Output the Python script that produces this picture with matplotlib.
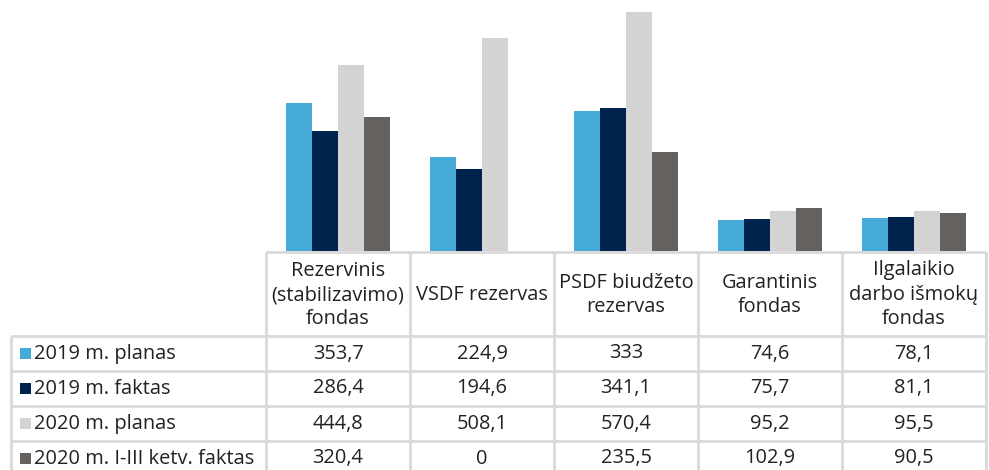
import matplotlib
matplotlib.use("Agg")
import matplotlib.pyplot as plt
import numpy as np

categories = ["Rezervinis\n(stabilizavimo)\nfondas", "VSDF rezervas",
              "PSDF biudžeto\nrezervas", "Garantinis\nfondas",
              "Ilgalaikio\ndarbo išmokų\nfondas"]
series_names = ["2019 m. planas", "2019 m. faktas", "2020 m. planas",
                "2020 m. I-III ketv. faktas"]
plan_2019 = [353.7, 224.9, 333, 74.6, 78.1]
fact_2019 = [286.4, 194.6, 341.1, 75.7, 81.1]
plan_2020 = [444.8, 508.1, 570.4, 95.2, 95.5]
fact_2020 = [320.4, 0, 235.5, 102.9, 90.5]
series = [plan_2019, fact_2019, plan_2020, fact_2020]
colors = ["#47ABDA", "#00234E", "#D3D3D3", "#65615F"]

FONT = ["Open Sans", "DejaVu Sans"]
FS = 14.4
TXT = "#222222"
GRID = "#D9D9D9"

W, H = 989, 470
fig = plt.figure(figsize=(W / 100, H / 100), dpi=100)

# table geometry in pixels
col_edges = [266, 410, 554, 698, 842, 986]
label_left = 11
header_top, header_bot = 252, 336
row_h = 35

# bar axes
x0, x1 = col_edges[0], col_edges[-1]
base = 251
ax = fig.add_axes([x0 / W, (H - base) / H, (x1 - x0) / W, base / H])
ax.set_xlim(-0.5, len(categories) - 0.5)
ax.set_ylim(0, 599)
ax.axis("off")
x = np.arange(len(categories))
bw = 0.182
for i, (vals, c) in enumerate(zip(series, colors)):
    ax.bar(x + (i - 1.5) * bw, vals, width=bw, color=c, linewidth=0)

# overlay axes for table (pixel coords)
tax = fig.add_axes([0, 0, 1, 1])
tax.set_xlim(0, W)
tax.set_ylim(H, 0)
tax.axis("off")

lw = 2
tax.plot([col_edges[0], col_edges[-1]], [header_top, header_top], color=GRID, lw=lw, solid_capstyle="butt")
for xe in col_edges:
    tax.plot([xe, xe], [header_top, H], color=GRID, lw=lw, solid_capstyle="butt")
tax.plot([label_left, label_left], [header_bot, H], color=GRID, lw=lw, solid_capstyle="butt")
for r in range(len(series) + 1):
    y = header_bot + r * row_h
    if y < H:
        tax.plot([label_left, col_edges[-1]], [y, y], color=GRID, lw=lw, solid_capstyle="butt")

# header texts
for j, cat in enumerate(categories):
    cx = (col_edges[j] + col_edges[j + 1]) / 2
    tax.text(cx, (header_top + header_bot) / 2 + 1, cat, ha="center", va="center",
             fontsize=FS, family=FONT, color=TXT, linespacing=1.3)

# rows
for r, (name, vals, c) in enumerate(zip(series_names, series, colors)):
    cy = header_bot + r * row_h + row_h / 2
    tax.add_patch(plt.Rectangle((20, cy - 5.5), 11, 11, color=c, lw=0))
    tax.text(34, cy, name, ha="left", va="center", fontsize=FS, family=FONT, color=TXT)
    for j, v in enumerate(vals):
        cx = (col_edges[j] + col_edges[j + 1]) / 2
        s = f"{v:g}".replace(".", ",")
        tax.text(cx, cy, s, ha="center", va="center", fontsize=FS, family=FONT, color=TXT)

fig.savefig("out.png", dpi=100)
